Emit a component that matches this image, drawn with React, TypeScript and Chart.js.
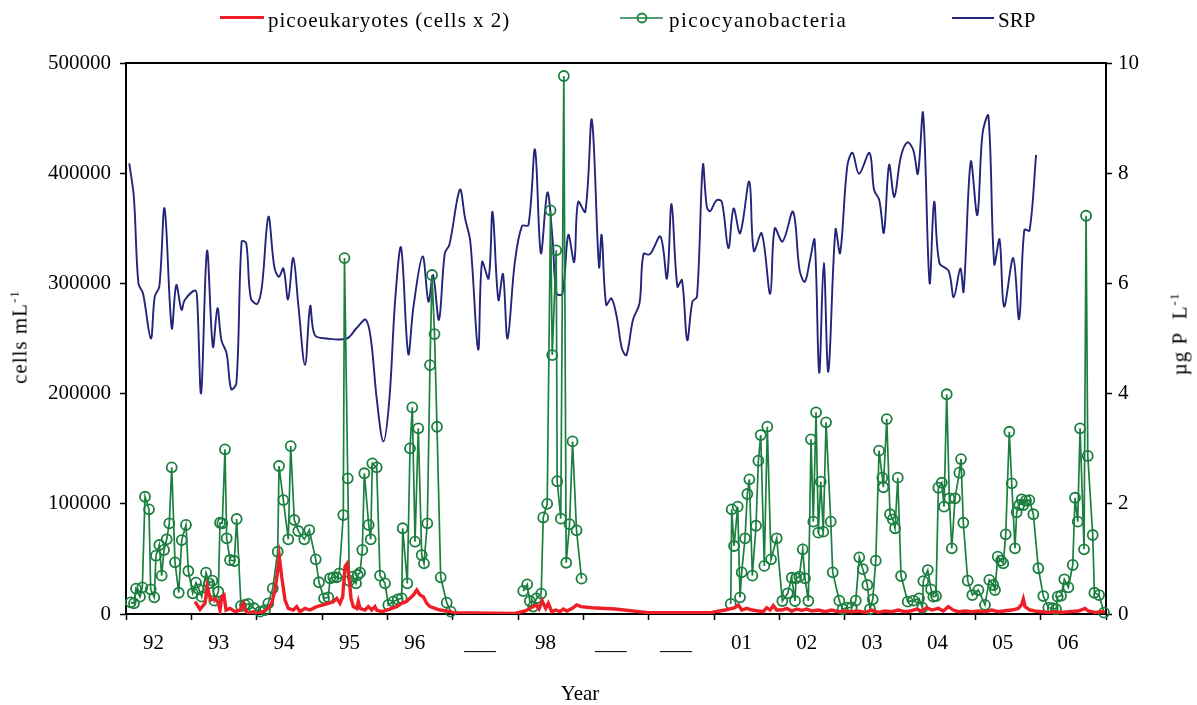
import React, { useEffect, useRef } from 'react';
import { Chart, registerables } from 'chart.js';

Chart.register(...registerables);

// ---------- data ----------
const yearLabels = ['92', '93', '94', '95', '96', '___', '98', '___', '___', '01', '02', '03', '04', '05', '06'];
const firstYear = 1992;
const lastYear = 2007;

const leftTicks = [0, 100000, 200000, 300000, 400000, 500000];
const rightTicks = [0, 2, 4, 6, 8, 10];

const srpYears = [
  1992.05, 1992.12, 1992.19, 1992.26, 1992.38, 1992.44, 1992.51, 1992.59, 1992.70, 1992.77, 1992.85, 1992.90,
  1993.06, 1993.09, 1993.15, 1993.24, 1993.33, 1993.40, 1993.46, 1993.54, 1993.61, 1993.69, 1993.77, 1993.84, 1993.91,
  1994.01, 1994.08, 1994.18, 1994.27, 1994.34, 1994.41, 1994.48, 1994.56, 1994.64, 1994.74, 1994.82, 1994.89,
  1995.07, 1995.38, 1995.53, 1995.67, 1995.75, 1995.84, 1995.94,
  1996.03, 1996.12, 1996.21, 1996.32, 1996.40, 1996.54, 1996.63, 1996.70, 1996.79, 1996.88, 1996.95,
  1997.11, 1997.19, 1997.27, 1997.39, 1997.45, 1997.55, 1997.61, 1997.70, 1997.77, 1997.84, 1997.95,
  1998.06, 1998.16, 1998.26, 1998.35, 1998.45, 1998.53, 1998.59, 1998.68, 1998.77, 1998.86, 1998.92,
  1999.03, 1999.13, 1999.24, 1999.28, 1999.35, 1999.43, 1999.51, 1999.59, 1999.66, 1999.76, 1999.86, 1999.92,
  2000.02, 2000.18, 2000.28, 2000.35, 2000.44, 2000.51, 2000.59, 2000.67, 2000.74, 2000.83, 2000.89, 2000.94,
  2001.04, 2001.12, 2001.22, 2001.30, 2001.40, 2001.54, 2001.61, 2001.73, 2001.86, 2001.93,
  2002.05, 2002.21, 2002.31, 2002.39, 2002.47, 2002.54, 2002.61, 2002.68, 2002.75, 2002.86, 2002.93,
  2003.04, 2003.12, 2003.22, 2003.38, 2003.45, 2003.53, 2003.60, 2003.68, 2003.76, 2003.86, 2003.96,
  2004.05, 2004.12, 2004.20, 2004.30, 2004.37, 2004.45, 2004.59, 2004.67, 2004.77, 2004.82, 2004.93,
  2005.03, 2005.11, 2005.20, 2005.29, 2005.37, 2005.44, 2005.58, 2005.67, 2005.75, 2005.83, 2005.93,
];
const srpValues = [
  8.18, 7.57, 6.00, 5.82, 5.00, 5.76, 5.94, 7.36, 5.19, 5.97, 5.52, 5.70,
  5.87, 5.70, 4.01, 6.59, 4.85, 5.55, 4.97, 4.73, 4.08, 4.19, 6.76, 6.73, 5.73,
  5.63, 5.94, 7.21, 6.30, 6.12, 6.27, 5.71, 6.46, 5.58, 4.52, 5.59, 5.06,
  5.00, 5.00, 5.19, 5.34, 4.97, 3.88, 3.13,
  3.88, 5.70, 6.65, 4.72, 5.58, 6.49, 5.67, 6.15, 5.34, 6.55, 6.70,
  7.70, 7.18, 6.76, 4.80, 6.39, 6.09, 7.30, 5.70, 6.17, 5.00, 6.37,
  7.04, 7.06, 8.43, 6.55, 7.65, 6.79, 5.82, 5.81, 6.88, 6.39, 7.48,
  7.30, 8.97, 6.30, 6.88, 5.61, 5.73, 5.40, 4.82, 4.70, 5.34, 5.64, 6.53,
  6.53, 6.85, 6.09, 7.44, 5.94, 6.06, 4.97, 5.67, 5.76, 8.15, 7.39, 7.31,
  7.51, 7.48, 6.64, 7.36, 6.91, 7.85, 6.59, 6.91, 5.81, 7.00,
  6.76, 7.30, 6.24, 6.03, 6.43, 6.79, 4.38, 6.37, 4.40, 6.98, 6.55,
  8.13, 8.37, 7.99, 8.37, 7.70, 7.51, 6.92, 8.15, 7.57, 8.30, 8.56,
  8.42, 7.99, 9.09, 6.01, 7.48, 6.37, 6.23, 5.75, 6.27, 5.85, 8.21,
  7.24, 8.72, 9.04, 6.35, 6.80, 5.58, 6.46, 5.35, 6.97, 6.96, 8.33,
];

// null = no sampling (gap in the line)
const cyanoYears = [
  1992.072, 1992.122, 1992.153, 1992.214, 1992.250, 1992.291, 1992.352, 1992.378, 1992.433, 1992.459,
  1992.510, 1992.546, 1992.582, 1992.623, 1992.663, 1992.700, 1992.750, 1992.807, 1992.853, 1992.918,
  1992.954, 1993.021, 1993.071, 1993.117, 1993.159, 1993.225, 1993.275, 1993.321, 1993.352, 1993.413,
  1993.439, 1993.474, 1993.515, 1993.541, 1993.592, 1993.658, 1993.694, 1993.760, 1993.822, 1993.872,
  1993.959, 1994.051, 1994.128, 1994.178, 1994.246, 1994.322, 1994.342, 1994.408, 1994.484, 1994.521,
  1994.576, 1994.637, 1994.729, 1994.806, 1994.904, 1994.954, 1995.031, 1995.097, 1995.123, 1995.173,
  1995.225, 1995.265, 1995.326, 1995.344, 1995.394, 1995.418, 1995.470, 1995.521, 1995.547, 1995.582,
  1995.617, 1995.648, 1995.715, 1995.746, 1995.770, 1995.837, 1995.888, 1995.964, 1996.015, 1996.091,
  1996.159, 1996.220, 1996.235, 1996.306, 1996.347, 1996.382, 1996.424, 1996.474, 1996.526, 1996.561,
  1996.612, 1996.653, 1996.684, 1996.722, 1996.760, 1996.817, 1996.909, 1996.970,
  1997.500,
  1998.080, 1998.141, 1998.181, 1998.233, 1998.283, 1998.355, 1998.386, 1998.447, 1998.498, 1998.524,
  1998.585, 1998.600, 1998.655, 1998.701, 1998.738, 1998.789, 1998.835, 1998.896, 1998.972,
  2000.000,
  2001.256, 2001.271, 2001.307, 2001.363, 2001.398, 2001.424, 2001.475, 2001.510, 2001.541, 2001.587,
  2001.643, 2001.679, 2001.715, 2001.770, 2001.816, 2001.873, 2001.960, 2002.046, 2002.129, 2002.190,
  2002.240, 2002.256, 2002.306, 2002.358, 2002.393, 2002.444, 2002.485, 2002.520, 2002.562, 2002.597,
  2002.634, 2002.673, 2002.715, 2002.787, 2002.817, 2002.918, 2002.970, 2003.032, 2003.108, 2003.170,
  2003.224, 2003.277, 2003.347, 2003.388, 2003.430, 2003.476, 2003.526, 2003.577, 2003.592, 2003.644,
  2003.694, 2003.736, 2003.771, 2003.813, 2003.863, 2003.965, 2004.051, 2004.138, 2004.189, 2004.204,
  2004.272, 2004.322, 2004.357, 2004.398, 2004.434, 2004.486, 2004.521, 2004.562, 2004.602, 2004.639,
  2004.689, 2004.755, 2004.781, 2004.816, 2004.884, 2004.954, 2005.046, 2005.148, 2005.214, 2005.275,
  2005.301, 2005.343, 2005.393, 2005.428, 2005.465, 2005.520, 2005.557, 2005.607, 2005.633, 2005.673,
  2005.710, 2005.735, 2005.776, 2005.827, 2005.888, 2005.964, 2006.041, 2006.117, 2006.185, 2006.235,
  2006.261, 2006.312, 2006.362, 2006.424, 2006.491, 2006.526, 2006.567, 2006.603, 2006.664, 2006.695,
  2006.721, 2006.797, 2006.822, 2006.894, 2006.970,
];
const cyanoValues: (number | null)[] = [
  10600, 9700, 23000, 15700, 24200, 106400, 95000, 22400, 15100, 52900,
  62600, 34800, 58100, 67800, 82300, 133100, 46900, 19300, 67100, 80800,
  39000, 18800, 28400, 22400, 15700, 37500, 27800, 30200, 12100, 20200,
  82800, 82300, 149400, 68700, 49000, 48100, 86200, 7300, 8200, 9100,
  5200, 2100, 3600, 9700, 23300, 56500, 134300, 103400, 67800, 152400,
  85300, 75300, 67800, 76200, 49600, 28800, 14200, 15100, 32400, 33300,
  33300, 36900, 89800, 323000, 123100, 30200, 33900, 27800, 35400, 37500,
  58100, 127700, 80800, 67800, 136700, 133100, 34800, 27800, 8200, 11200,
  13300, 14200, 77800, 27800, 150300, 187500, 65600, 168500, 53500, 46000,
  82300, 225900, 307600, 254000, 169900, 33300, 10300, 2100,
  null,
  20900, 26900, 11800, 6700, 14200, 18500, 87600, 100000, 366300, 235000,
  330000, 120500, 86500, 488200, 46500, 81500, 156600, 75900, 32100,
  null,
  9100, 95000, 61700, 97400, 15100, 37800, 68700, 108900, 122200, 34800,
  80100, 139100, 162400, 43600, 170000, 49600, 68700, 11800, 18800, 32900,
  11800, 32400, 33900, 58700, 32400, 11800, 158500, 83800, 183000, 73800,
  120100, 74700, 173900, 83800, 37800, 12100, 4500, 5700, 6100, 12100,
  51400, 40800, 26300, 4500, 13300, 48400, 148200, 123700, 115000, 176900,
  90500, 85900, 77800, 123700, 34500, 11200, 12100, 14200, 5700, 29900,
  39900, 22400, 15700, 16300, 114600, 119100, 97400, 199400, 105000, 59600,
  105000, 128200, 140600, 82800, 30200, 17200, 21800, 8200, 30900, 26300,
  21800, 52000, 48400, 46000, 72300, 165400, 118600, 59600, 92300, 98900,
  104100, 98900, 102800, 103400, 90500, 41500, 16300, 5700, 5200, 4300,
  15700, 16600, 31500, 24200, 44500, 105500, 83800, 168500, 58700, 361400,
  143400, 71700, 19300, 17200, 1200,
];

const eukYears = [
  1993.056, 1993.133, 1993.209, 1993.244, 1993.296, 1993.362, 1993.413, 1993.439, 1993.465, 1993.500,
  1993.531, 1993.592, 1993.668, 1993.745, 1993.796, 1993.822, 1993.872, 1993.949, 1994.025, 1994.102,
  1994.178, 1994.230, 1994.281, 1994.316, 1994.347, 1994.383, 1994.434, 1994.484, 1994.561, 1994.613,
  1994.663, 1994.740, 1994.816, 1994.919, 1995.020, 1995.097, 1995.173, 1995.225, 1995.276, 1995.317,
  1995.352, 1995.387, 1995.418, 1995.444, 1995.479, 1995.531, 1995.556, 1995.582, 1995.658, 1995.709,
  1995.761, 1995.811, 1995.837, 1995.914, 1995.990, 1996.067, 1996.144, 1996.220, 1996.286, 1996.347,
  1996.398, 1996.450, 1996.500, 1996.551, 1996.603, 1996.653, 1996.730, 1996.806, 1996.883, 1996.959,
  1997.010, 1997.954, 1998.107, 1998.184, 1998.271, 1998.322, 1998.372, 1998.424, 1998.464, 1998.516,
  1998.577, 1998.643, 1998.694, 1998.746, 1998.832, 1998.899, 1998.965, 1999.128, 1999.485, 1999.990,
  2000.965, 2001.169, 2001.322, 2001.372, 2001.424, 2001.501, 2001.578, 2001.679, 2001.755, 2001.807,
  2001.858, 2001.908, 2001.960, 2002.037, 2002.113, 2002.190, 2002.266, 2002.343, 2002.419, 2002.496,
  2002.597, 2002.700, 2002.802, 2002.903, 2003.006, 2003.108, 2003.209, 2003.312, 2003.414, 2003.515,
  2003.618, 2003.720, 2003.821, 2003.924, 2004.000, 2004.103, 2004.180, 2004.256, 2004.333, 2004.434,
  2004.510, 2004.587, 2004.663, 2004.740, 2004.842, 2004.945, 2005.046, 2005.148, 2005.251, 2005.352,
  2005.455, 2005.557, 2005.658, 2005.710, 2005.735, 2005.761, 2005.837, 2005.914, 2006.016, 2006.117,
  2006.220, 2006.322, 2006.424, 2006.577, 2006.679, 2006.730, 2006.832, 2006.935, 2006.985,
];
const eukValues = [
  11200, 4200, 9700, 24800, 12700, 14200, 9700, 3600, 15700, 17200,
  3600, 5100, 2100, 3600, 9700, 3600, 600, 2100, 600, 2100,
  5100, 9700, 21800, 36900, 52000, 33900, 12700, 5100, 3600, 6700,
  2100, 5100, 3600, 6700, 8200, 9700, 11200, 14200, 9700, 15700,
  43000, 46000, 30900, 14200, 6700, 5100, 11200, 5100, 3600, 6700,
  3600, 6700, 3600, 2100, 3600, 5100, 6700, 9700, 11200, 14200,
  17200, 21800, 17200, 15700, 9700, 6700, 5100, 3600, 3000, 2100,
  1200, 600, 2700, 5100, 8200, 4500, 11800, 5100, 9700, 2100,
  3600, 2100, 4500, 2700, 5100, 8200, 6700, 5700, 4500, 1200,
  1500, 3600, 5700, 8200, 3600, 5100, 3600, 2700, 2100, 5700,
  3600, 7600, 3600, 3600, 5100, 2700, 4500, 3300, 4500, 2700,
  3600, 2100, 3600, 2100, 2700, 2100, 2700, 1500, 3600, 1500,
  2700, 2100, 3600, 2100, 2700, 4500, 2700, 5700, 3600, 5100,
  2700, 6700, 3600, 2100, 2700, 2100, 2700, 2100, 3600, 2100,
  3000, 3600, 5100, 8800, 13600, 6700, 3600, 2700, 2100, 1500,
  2100, 1500, 2100, 2700, 5100, 2700, 1500, 2100, 1500,
];

// ---------- styling ----------
const FONT = '"Liberation Serif", "Times New Roman", serif';
const RED = '#ee1f26';
const GREEN = '#1b7f3f';
const NAVY = '#24247a';
const LABEL_SHIFT = 0.42;
const FS = 21;

const W = 1197;
const H = 705;

const isBoundary = (v: number) => Math.abs(v - Math.round(v)) < 1e-6;

const framePlugin = {
  id: 'frameTop',
  afterDraw(chart: any) {
    const { ctx, chartArea } = chart;
    ctx.save();
    ctx.strokeStyle = '#000';
    ctx.lineWidth = 2;
    ctx.beginPath();
    ctx.moveTo(chartArea.left - 1, chartArea.top);
    ctx.lineTo(chartArea.right + 1, chartArea.top);
    ctx.stroke();
    ctx.restore();
  },
};

export default function App() {
  const ref = useRef<HTMLCanvasElement | null>(null);

  useEffect(() => {
    if (!ref.current) return;
    const pts = (xs: number[], ys: (number | null)[]) => xs.map((x, i) => ({ x, y: ys[i] }));
    const chart = new Chart(ref.current, {
      type: 'line',
      data: {
        datasets: [
          {
            label: 'picoeukaryotes (cells x 2)',
            data: pts(eukYears, eukValues),
            borderColor: RED,
            backgroundColor: RED,
            borderWidth: 3.4,
            pointRadius: 0,
            yAxisID: 'y',
            tension: 0,
          },
          {
            label: 'picocyanobacteria',
            data: pts(cyanoYears, cyanoValues),
            borderColor: GREEN,
            backgroundColor: 'rgba(0,0,0,0)',
            borderWidth: 1.7,
            pointRadius: 5,
            pointBorderWidth: 1.8,
            pointBorderColor: GREEN,
            pointBackgroundColor: 'rgba(255,255,255,0)',
            yAxisID: 'y',
            tension: 0,
            spanGaps: false,
            clip: 8,
          },
          {
            label: 'SRP',
            data: pts(srpYears, srpValues),
            borderColor: NAVY,
            backgroundColor: NAVY,
            borderWidth: 1.9,
            pointRadius: 0,
            yAxisID: 'y1',
            tension: 0.35,
          },
        ],
      },
      options: {
        animation: false,
        responsive: false,
        maintainAspectRatio: false,
        events: [],
        layout: { padding: { top: 63, left: 0, right: 0, bottom: 0 } },
        plugins: { legend: { display: false }, tooltip: { enabled: false } },
        scales: {
          x: {
            type: 'linear',
            position: 'bottom',
            min: firstYear,
            max: lastYear,
            afterBuildTicks: (scale: any) => {
              const t: { value: number }[] = [];
              for (let y = firstYear; y <= lastYear; y++) t.push({ value: y });
              yearLabels.forEach((_, i) => t.push({ value: firstYear + i + LABEL_SHIFT }));
              t.sort((a, b) => a.value - b.value);
              scale.ticks = t;
            },
            afterFit: (scale: any) => {
              scale.height = H - 614;
            },
            ticks: {
              autoSkip: false,
              maxRotation: 0,
              minRotation: 0,
              padding: 11,
              color: '#000',
              font: { family: FONT, size: FS },
              callback: (value: any) => {
                const v = Number(value);
                if (isBoundary(v)) return '';
                const i = Math.round(v - LABEL_SHIFT - firstYear);
                return yearLabels[i] ?? '';
              },
            },
            grid: {
              drawOnChartArea: false,
              drawTicks: true,
              tickLength: 6,
              tickWidth: 1.5,
              tickColor: (ctx: any) => (ctx.tick && isBoundary(ctx.tick.value) ? '#000' : 'rgba(0,0,0,0)'),
            },
            border: { display: true, color: '#000', width: 2 },
          },
          y: {
            type: 'linear',
            position: 'left',
            min: 0,
            max: 500000,
            afterBuildTicks: (scale: any) => {
              scale.ticks = leftTicks.map((value) => ({ value }));
            },
            afterFit: (scale: any) => {
              scale.width = 126;
            },
            ticks: {
              padding: 9,
              color: '#000',
              font: { family: FONT, size: FS },
              callback: (v: any) => String(v),
            },
            grid: { drawOnChartArea: false, tickLength: 6, tickWidth: 1.5, tickColor: '#000' },
            border: { display: true, color: '#000', width: 2 },
          },
          y1: {
            type: 'linear',
            position: 'right',
            min: 0,
            max: 10,
            afterBuildTicks: (scale: any) => {
              scale.ticks = rightTicks.map((value) => ({ value }));
            },
            afterFit: (scale: any) => {
              scale.width = W - 1106;
            },
            ticks: {
              padding: 6,
              color: '#000',
              font: { family: FONT, size: FS },
              callback: (v: any) => String(v),
            },
            grid: { drawOnChartArea: false, tickLength: 6, tickWidth: 1.5, tickColor: '#000' },
            border: { display: true, color: '#000', width: 2 },
          },
        },
      },
      plugins: [framePlugin],
    } as any);
    return () => chart.destroy();
  }, []);

  const textStyle: React.CSSProperties = {
    position: 'absolute',
    fontFamily: FONT,
    fontSize: FS,
    lineHeight: '21px',
    color: '#000',
    whiteSpace: 'nowrap',
  };
  const supStyle: React.CSSProperties = { fontSize: 13, verticalAlign: 'super', lineHeight: 0 };

  return (
    <div style={{ position: 'fixed', left: 0, top: 0, width: W, height: H, background: '#fff' }}>
      <canvas ref={ref} width={W} height={H} style={{ position: 'absolute', left: 0, top: 0, width: W, height: H }} />
      {/* legend */}
      <div style={{ position: 'absolute', left: 220, top: 16, width: 44, height: 3.4, background: RED }} />
      <div style={{ ...textStyle, left: 268, top: 10, letterSpacing: 1 }}>picoeukaryotes (cells x 2)</div>
      <svg style={{ position: 'absolute', left: 619, top: 9 }} width={46} height={18}>
        <line x1={1} y1={9} x2={44} y2={9} stroke={GREEN} strokeWidth={1.7} />
        <circle cx={23} cy={9} r={4.5} fill="none" stroke={GREEN} strokeWidth={1.8} />
      </svg>
      <div style={{ ...textStyle, left: 669, top: 10, letterSpacing: 1.5 }}>picocyanobacteria</div>
      <div style={{ position: 'absolute', left: 952, top: 17, width: 42, height: 1.9, background: NAVY }} />
      <div style={{ ...textStyle, left: 998, top: 10 }}>SRP</div>
      {/* axis titles */}
      <div style={{ ...textStyle, left: 20, top: 337, letterSpacing: 1, transform: 'translate(-50%, -50%) rotate(-90deg)' }}>
        cells mL<sup style={supStyle}>-1</sup>
      </div>
      <div style={{ ...textStyle, left: 1180, top: 334, letterSpacing: 1, transform: 'translate(-50%, -50%) rotate(-90deg)' }}>
        µg P&nbsp;&nbsp;L<sup style={supStyle}>-1</sup>
      </div>
      <div style={{ ...textStyle, left: 580, top: 693, transform: 'translate(-50%, -50%)' }}>Year</div>
    </div>
  );
}
